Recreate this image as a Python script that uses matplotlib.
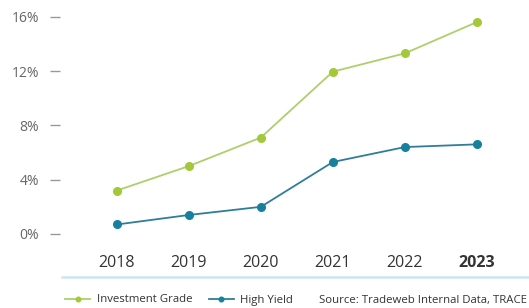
import matplotlib
matplotlib.use("Agg")
import matplotlib.pyplot as plt
from matplotlib.lines import Line2D

plt.rcParams['font.family'] = ['Open Sans', 'DejaVu Sans']

years = [2018, 2019, 2020, 2021, 2022, 2023]
investment_grade = [3.2, 5.0, 7.1, 11.95, 13.3, 15.6]
high_yield = [0.7, 1.4, 2.0, 5.3, 6.4, 6.6]
y_ticks = [0, 4, 8, 12, 16]
y_labels = ["0%", "4%", "8%", "12%", "16%"]
source_text = "Source: Tradeweb Internal Data, TRACE"

ig_color = '#a3c93a'
ig_line = '#add06a'
hy_color = '#17809f'
hy_line = '#2f7d9c'

W, H = 529, 308
fig = plt.figure(figsize=(W / 100, H / 100), dpi=100)
ax = fig.add_axes([60 / W, 1 - 245 / H, (520 - 60) / W, (245 - 5) / H])

ax.plot(years, investment_grade, color=ig_line, lw=1.3, marker='o', ms=5.5,
        mfc=ig_color, mec=ig_color, label="Investment Grade")
ax.plot(years, high_yield, color=hy_line, lw=1.3, marker='o', ms=5.5,
        mfc=hy_color, mec=hy_color, label="High Yield")

ax.set_xlim(2017.21, 2023.60)
ax.set_ylim(-0.81, 16.86)
for s in ax.spines.values():
    s.set_visible(False)

ax.set_yticks(y_ticks)
ax.set_yticklabels(y_labels, fontsize=10, color='#666666')
ax.tick_params(axis='y', length=7, width=1, color='#999999', pad=8)
ax.set_xticks(years)
ax.set_xticklabels([str(y) for y in years], fontsize=11.5, color='#333333')
ax.get_xticklabels()[-1].set_fontweight('bold')
ax.tick_params(axis='x', length=0, pad=7)

# separator line under the axis
fig.add_artist(Line2D([62 / W, 1.0], [1 - 277 / H, 1 - 277 / H],
                      color='#cfe5ee', lw=1.8))

fig.legend(loc='center left', bbox_to_anchor=(55 / W, 1 - 300 / H), ncol=2,
           frameon=False, fontsize=8.2, handlelength=2.2, handletextpad=0.6,
           columnspacing=1.4, markerscale=0.6, labelcolor='#333333')
fig.text(527 / W, 1 - 300 / H, source_text, ha='right', va='center',
         fontsize=8.2, color='#333333')

fig.savefig("out.png", dpi=100)
